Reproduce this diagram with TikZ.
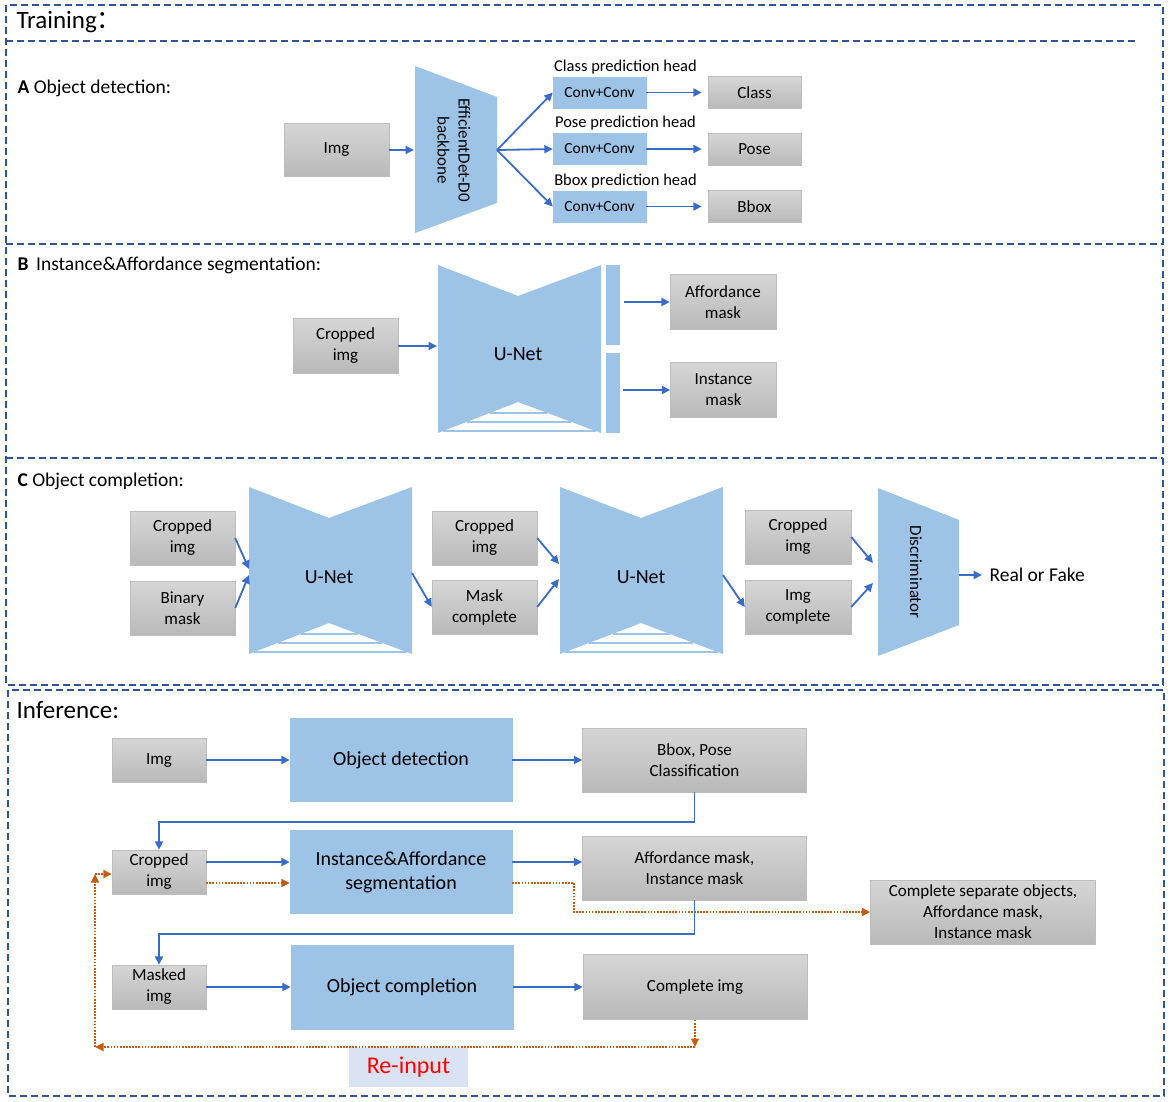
\documentclass[tikz,border=0pt]{standalone}
\usepackage{fontspec}
\setmainfont{Carlito}
\newfontfamily\cjk{Noto Sans CJK SC}
\usetikzlibrary{arrows.meta}
\definecolor{netblue}{HTML}{9DC3E6}
\definecolor{lineblue}{HTML}{3A6CC6}
\definecolor{frameblue}{HTML}{2F5597}
\definecolor{graytop}{HTML}{D6D6D6}
\definecolor{graybot}{HTML}{B9B9B9}
\definecolor{grayedge}{HTML}{BDBDBD}
\definecolor{dotorange}{HTML}{C55A11}
\definecolor{tagblue}{HTML}{DAE3F3}
\newcommand{\fTitle}{\fontsize{25}{30}\selectfont}
\newcommand{\fHead}{\fontsize{19.5}{23}\selectfont}
\newcommand{\fBox}{\fontsize{17}{21}\selectfont}
\newcommand{\fConv}{\fontsize{15.5}{18}\selectfont}
\newcommand{\fNet}{\fontsize{20}{24}\selectfont}
\newcommand{\fHeadlbl}{\fontsize{16.5}{20}\selectfont}
% U-Net: left, middle, right, top, bottom, notch depth
\newcommand{\unetshape}[6]{%
  \fill[netblue] (#1,#4) -- (#2,#4+#6) -- (#3,#4) -- (#3,#5) -- (#2,#5-#6) -- (#1,#5) -- cycle;
  \foreach \f in {0.065,0.36,0.65}
  {
      \draw[netblue, line width=1.6pt] ({#1+\f*(#2-#1)},{#5-\f*#6}) -- ({#3-\f*(#3-#2)},{#5-\f*#6});
  }
}
\begin{document}
\begin{tikzpicture}[x=1pt, y=-1pt, >={Triangle[length=8.5pt,width=8pt]},
    frame/.style={draw=frameblue, line width=1.6pt, dash pattern=on 7pt off 4pt},
    graybox/.style={draw=grayedge, top color=graytop, bottom color=graybot, align=center, inner sep=0pt, font=\fBox},
    bluebox/.style={fill=netblue, draw=netblue, align=center, inner sep=0pt},
    arr/.style={->, draw=lineblue, line width=1.8pt},
    dotarr/.style={->, draw=dotorange, line width=1.7pt, dash pattern=on 1.7pt off 1.4pt}]
    \useasboundingbox (0,0) rectangle (1170,1101);
    % frames
    \draw[frame] (6,5) rectangle (1163,685);
    \draw[frame] (6,41) -- (1138,41);
    \draw[frame] (6,244) -- (1163,244);
    \draw[frame] (6,458) -- (1163,458);
    \draw[frame] (8,690) rectangle (1164,1096);
    \node[anchor=base west, font=\fTitle] (trainlbl) at (13,28) {Training{\cjk ：}};
    % A
    \node[anchor=base west, font=\fHead] (lblA) at (14,93) {\textbf{A} Object detection:};
    \node[graybox, minimum width=105pt, minimum height=53pt] (imgA) at (336.5,150) {Img};
    \fill[netblue] (415,66) -- (497,97) -- (497,203) -- (415,233) -- cycle;
    \node[rotate=-90, align=center, font=\fBox] (bbtext) at (454,150) {EfficientDet-D0\\backbone};
    \coordinate (bbin) at (414,150);
    \coordinate (bbout) at (497,150);
    \draw[arr] (imgA.east) -- (bbin);
    \foreach \nm/\y/\txt in {cls/92.5/Class, pose/149/Pose, bbox/206.5/Bbox}
    {
        \node[bluebox, minimum width=93pt, minimum height=31pt, font=\fConv] (conv\nm) at (599.5,\y) {Conv+Conv};
        \node[font=\fHeadlbl] (head\nm) at (625.5,\y-25.5) {\txt{} prediction head};
        \node[graybox, minimum width=93pt, minimum height=32pt] (out\nm) at (754.5,\y) {\txt};
        \draw[arr] (bbout) -- (conv\nm.west);
        \draw[arr, shorten >=6pt] (conv\nm.east) -- (out\nm.west);
    }
    % B
    \node[anchor=base west, font=\fHead] (lblB) at (14,270) {\textbf{B}\, Instance\&Affordance segmentation:};
    \node[graybox, minimum width=105pt, minimum height=55pt] (cropB) at (345.5,346) {Cropped\\img};
    \unetshape{438}{518}{601}{265}{433}{31}
    \node[font=\fNet] (unetB) at (518,354) {U-Net};
    \fill[netblue] (606,265) rectangle (620,345);
    \fill[netblue] (606,353) rectangle (620,433);
    \node[graybox, minimum width=106pt, minimum height=55pt] (affB) at (723,302) {Affordance\\mask};
    \node[graybox, minimum width=106pt, minimum height=55pt] (instB) at (723.5,390) {Instance\\mask};
    \coordinate (unetBin) at (437,346);
    \coordinate (barA) at (624,302);
    \coordinate (barB) at (623,390);
    \draw[arr] (cropB.east) -- (unetBin);
    \draw[arr] (barA) -- (affB.west);
    \draw[arr] (barB) -- (instB.west);
    % C
    \node[anchor=base west, font=\fHead] (lblC) at (14,486) {\textbf{C} Object completion:};
    \node[graybox, minimum width=105pt, minimum height=54pt] (cropC1) at (182.5,538) {Cropped\\img};
    \node[graybox, minimum width=105pt, minimum height=54pt] (binC) at (182.5,608) {Binary\\mask};
    \unetshape{249}{329}{412}{487}{654}{31}
    \node[font=\fNet] (unetC1) at (329,577) {U-Net};
    \node[graybox, minimum width=105pt, minimum height=54pt] (cropC2) at (484.5,538) {Cropped\\img};
    \node[graybox, minimum width=105pt, minimum height=54pt] (maskC) at (484.5,607) {Mask\\complete};
    \unetshape{560}{641}{723}{487}{654}{31}
    \node[font=\fNet] (unetC2) at (641,577) {U-Net};
    \node[graybox, minimum width=106pt, minimum height=54pt] (cropC3) at (798,537) {Cropped\\img};
    \node[graybox, minimum width=106pt, minimum height=54pt] (imgC) at (798,607) {Img\\complete};
    \fill[netblue] (878,488) -- (959,520) -- (959,625) -- (878,656) -- cycle;
    \node[rotate=-90, font=\fBox] (disc) at (916,572) {Discriminator};
    \node[anchor=west, font=\fHead] (real) at (986,575) {Real or Fake};
    \coordinate (u1a) at (249,569);
    \coordinate (u1b) at (249,575);
    \coordinate (u1o) at (412,573);
    \coordinate (u2a) at (559,564);
    \coordinate (u2b) at (559,579);
    \coordinate (u2o) at (723,575);
    \coordinate (da) at (873,563);
    \coordinate (db) at (873,583);
    \coordinate (dout) at (959,575);
    \draw[arr] (cropC1.east) -- (u1a);
    \draw[arr] (binC.east) -- (u1b);
    \draw[arr] (u1o) -- (maskC.west);
    \draw[arr] (cropC2.east) -- (u2a);
    \draw[arr] (maskC.east) -- (u2b);
    \draw[arr] (u2o) -- (imgC.west);
    \draw[arr] (cropC3.east) -- (da);
    \draw[arr] (imgC.east) -- (db);
    \draw[arr, shorten >=4pt] (dout) -- (real.west);
    % Inference
    \node[anchor=base west, font=\fTitle] (inflbl) at (13,718) {Inference:};
    \node[graybox, minimum width=94pt, minimum height=44pt] (imgI) at (159,760) {Img};
    \node[bluebox, minimum width=222pt, minimum height=83pt, font=\fNet] (odI) at (401,760) {Object detection};
    \node[graybox, minimum width=224pt, minimum height=64pt] (bpc) at (694.5,760) {Bbox, Pose\\Classification};
    \node[graybox, minimum width=94pt, minimum height=44pt] (cropI) at (159,872) {Cropped\\img};
    \node[bluebox, minimum width=222pt, minimum height=83pt, font=\fNet] (segI) at (401,872) {Instance\&Affordance\\segmentation};
    \node[graybox, minimum width=224pt, minimum height=64pt] (amim) at (694.5,868) {Affordance mask,\\Instance mask};
    \node[graybox, minimum width=225pt, minimum height=64pt] (cso) at (983,912) {Complete separate objects,\\Affordance mask,\\Instance mask};
    \node[graybox, minimum width=94pt, minimum height=44pt] (maskedI) at (159,987) {Masked\\img};
    \node[bluebox, minimum width=222pt, minimum height=84pt, font=\fNet] (ocI) at (402,987) {Object completion};
    \node[graybox, minimum width=224pt, minimum height=65pt] (ci) at (695,987) {Complete img};
    \node[fill=tagblue, minimum width=119pt, minimum height=39pt, inner sep=0pt, text=red, font=\fontsize{24}{28}\selectfont] (reinput) at (408.5,1067) {Re-input};
    \coordinate (turnA) at (694.5,822);
    \coordinate (turnB) at (694.5,934);
    \coordinate (bendA) at (574,912);
    \coordinate (backR) at (695,1047);
    \coordinate (backL) at (95,1047);
    \coordinate (backT) at (95,874);
    \draw[arr] (imgI.east) -- (odI.west);
    \draw[arr] (odI.east) -- (bpc.west);
    \draw[arr] (bpc.south) -- (turnA) -| (cropI.north);
    \draw[arr] ([yshift=10pt]cropI.east) -- ([yshift=10pt]segI.west);
    \draw[dotarr] ([yshift=-11pt]cropI.east) -- ([yshift=-11pt]segI.west);
    \draw[arr] ([yshift=10pt]segI.east) -- ([yshift=6pt]amim.west);
    \draw[dotarr] ([yshift=-11pt]segI.east) -| (bendA) -- (cso.west);
    \draw[arr] (amim.south) -- (turnB) -| (maskedI.north);
    \draw[arr] (maskedI.east) -- (ocI.west);
    \draw[arr] (ocI.east) -- (ci.west);
    \draw[dotarr] (ci.south) -- (backR);
    \draw[dotarr] (backR) -- (backL);
    \draw[dotarr] (backL) -- (backT);
    \draw[dotarr] (backT) -- (backT -| cropI.west);
\end{tikzpicture}
\end{document}
